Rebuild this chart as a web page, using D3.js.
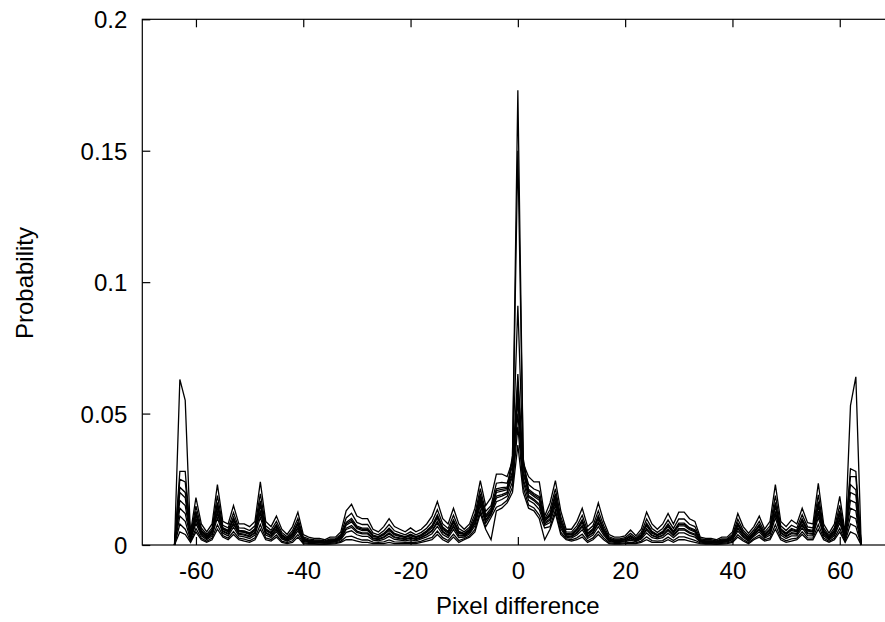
<!DOCTYPE html>
<html>
<head>
<meta charset="utf-8">
<script src="https://cdn.jsdelivr.net/npm/d3@7"></script>
<style>
  body { margin: 0; background: #fff; }
  text { font-family: "Liberation Sans", Arial, Helvetica, sans-serif; fill: #000; }
</style>
</head>
<body>
<svg id="chart" width="885" height="622"></svg>
<script>
// pixel difference categories, -64 .. 64
const pixelDiff = d3.range(-64, 65);

const xTicks = [-60, -40, -20, 0, 20, 40, 60];
const xTickLabels = ['-60', '-40', '-20', '0', '20', '40', '60'];
const yTicks = [0, 0.05, 0.1, 0.15, 0.2];
const yTickLabels = ['0', '0.05', '0.1', '0.15', '0.2'];

// probabilities, in units of 1e-3 (ten image histograms)
const series1 = [
  0, 63, 55, 2.4, 9.6, 4.1, 2.4, 4.1, 12, 5.1,
  4.1, 7.9, 4.1, 3.8, 3.1, 4.5, 12.3, 4.5, 3.4, 5.8,
  2.8, 1.7, 3.1, 6.3, 1.7, 1.2, 1.1, 1, .8, 1.2,
  1.4, 2.4, 5.9, 6.7, 4.8, 4.2, 4.2, 2.4, 2.1, 2.8,
  4.2, 2.8, 2.4, 2.1, 2.6, 2.1, 2.8, 3.8, 5.2, 8.4,
  4.8, 3.5, 6.9, 3.5, 3.4, 4.8, 8.2, 16.4, 9.2, 12,
  17.9, 18.6, 19.5, 33, 173, 32, 18.2, 16.9, 14.9, 8,
  9.5, 16.4, 7.2, 3.4, 3.1, 4.5, 6.9, 3.1, 4.5, 8.2,
  4.5, 1.7, 1.2, 1.2, 1.6, 2.3, 1.6, 2.8, 5.7, 3.5,
  2.8, 3.5, 5.5, 3.5, 5.7, 5.7, 4.5, 3.8, 1.4, 1.1,
  1.1, .8, 1.2, 1.4, 2.4, 6.2, 3.4, 1.9, 3.8, 5.8,
  3.1, 4.5, 12, 4.5, 3.1, 4.3, 4.1, 7.5, 4.3, 4.1,
  12.1, 4.1, 2.2, 4.1, 9.7, 2.4, 53, 64, 0
];
const series2 = [
  0, 28, 28, 3.2, 12.2, 5.3, 3.2, 5.3, 15.4, 6.3,
  5.3, 10.1, 5.3, 5.1, 4.3, 5.9, 15.9, 5.9, 4.5, 7.4,
  3.8, 2.4, 4.3, 8.2, 2.4, 1.8, 1.5, 1.5, 1.2, 1.8,
  1.9, 3.2, 8.1, 9.4, 6.7, 6, 6, 3.5, 3, 4.1,
  6, 4.1, 3.5, 3, 3.8, 3, 3.8, 5.1, 7, 10.9,
  6.4, 4.9, 9.1, 4.9, 4.2, 5.8, 10, 18.9, 11, 13,
  20.7, 21.2, 21.5, 34, 150, 33, 20.6, 19.1, 17.7, 9,
  11.5, 18.9, 9, 4.2, 4, 5.9, 9.1, 4.3, 5.9, 10.6,
  5.9, 2.4, 1.8, 1.8, 2.2, 3.4, 2.2, 3.8, 7.8, 4.9,
  3.8, 4.9, 7.5, 4.9, 7.8, 7.8, 6.2, 5.4, 1.9, 1.5,
  1.5, 1.2, 1.8, 1.9, 3.2, 8, 4.5, 2.7, 4.8, 7.4,
  4, 5.9, 15.4, 5.9, 4.3, 5.9, 5.3, 9.5, 5.6, 5.3,
  15.6, 5.3, 2.9, 5.3, 12.4, 3.2, 29, 28, 0
];
const series3 = [
  0, 25, 24, 5, 18, 8, 5, 8, 23, 9,
  8, 15, 8, 8, 7, 9, 24, 9, 7, 11,
  6, 4, 7, 12.5, 4, 3, 2.5, 2.5, 2, 3,
  3, 5, 13, 15.5, 11, 10, 10, 6, 5, 7,
  10, 7, 6, 5, 6.5, 5, 6, 8, 11, 16.5,
  10, 8, 14, 8, 6, 8, 14, 24.5, 15, 18,
  27, 27, 26, 32, 91, 31, 26, 24, 24, 11,
  16, 24.5, 13, 6, 6, 9, 14, 7, 9, 16,
  9, 4, 3, 3, 3.5, 5.7, 3.5, 6, 12.5, 8,
  6, 8, 12, 8, 12.5, 12.5, 10, 9, 3, 2.5,
  2.5, 2, 3, 3, 5, 12, 7, 4.5, 7, 11,
  6, 9, 23, 9, 7, 9.5, 8, 14, 8.5, 8,
  23.5, 8, 4.5, 8, 18.5, 5, 26, 26, 0
];
const series4 = [
  0, 22, 20, 4, 14.8, 6.5, 4, 6.5, 18.8, 7.5,
  6.5, 12.3, 6.5, 6.4, 5.5, 7.3, 19.5, 7.3, 5.6, 9,
  4.8, 3.1, 5.5, 10.1, 3.1, 2.3, 2, 1.9, 1.6, 2.3,
  2.4, 4, 10.3, 12.1, 8.6, 7.8, 7.8, 4.6, 3.9, 5.4,
  7.8, 5.4, 4.6, 3.9, 5, 3.9, 4.8, 6.4, 8.8, 13.4,
  8, 6.3, 11.3, 6.3, 5, 6.8, 11.8, 21.4, 12.8, 15,
  23.5, 23.8, 23.5, 30, 65, 30, 23, 21.3, 20.5, 10,
  13.5, 21.4, 10.8, 5, 4.9, 7.3, 11.3, 5.5, 7.3, 13,
  7.3, 3.1, 2.3, 2.3, 2.8, 4.4, 2.8, 4.8, 9.9, 6.3,
  4.8, 6.3, 9.5, 6.3, 9.9, 9.9, 7.9, 7, 2.4, 2,
  2, 1.6, 2.3, 2.4, 4, 9.8, 5.6, 3.5, 5.8, 9,
  4.9, 7.3, 18.8, 7.3, 5.5, 7.5, 6.5, 11.5, 6.9, 6.5,
  19.1, 6.5, 3.6, 6.5, 15.1, 4, 23, 21, 0
];
const series5 = [
  0, 20, 18, 3.4, 12.8, 5.6, 3.4, 5.6, 16.2, 6.6,
  5.6, 10.6, 5.6, 5.4, 4.6, 6.2, 16.8, 6.2, 4.8, 7.8,
  4, 2.6, 4.6, 8.7, 2.6, 1.9, 1.6, 1.6, 1.3, 1.9,
  2, 3.4, 8.6, 10.1, 7.2, 6.4, 6.4, 3.8, 3.2, 4.4,
  6.4, 4.4, 3.8, 3.2, 4.1, 3.2, 4, 5.4, 7.4, 11.5,
  6.8, 5.2, 9.6, 5.2, 4.4, 6, 10.4, 19.5, 11.4, 14,
  21.4, 21.8, 22, 28, 62, 28, 21.2, 19.6, 18.4, 9.5,
  12, 19.5, 9.4, 4.4, 4.2, 6.2, 9.6, 4.6, 6.2, 11.2,
  6.2, 2.6, 1.9, 1.9, 2.3, 3.6, 2.3, 4, 8.3, 5.2,
  4, 5.2, 8, 5.2, 8.3, 8.3, 6.6, 5.8, 2, 1.6,
  1.6, 1.3, 1.9, 2, 3.4, 8.4, 4.8, 2.9, 5, 7.8,
  4.2, 6.2, 16.2, 6.2, 4.6, 6.3, 5.6, 10, 5.9, 5.6,
  16.5, 5.6, 3.1, 5.6, 13.1, 3.4, 20, 19, 0
];
const series6 = [
  0, 17, 15, 3, 11.5, 5, 3, 5, 14.5, 6,
  5, 9.5, 5, 4.8, 4, 5.5, 15, 5.5, 4.3, 7,
  3.5, 2.3, 4, 7.8, 2.3, 1.7, 1.4, 1.4, 1.1, 1.7,
  1.8, 3, 7.5, 8.8, 6.3, 5.5, 5.5, 3.3, 2.8, 3.8,
  5.5, 3.8, 3.3, 2.8, 3.5, 2.8, 3.5, 4.8, 6.5, 10.3,
  6, 4.5, 8.5, 4.5, 4, 5.5, 9.5, 18.3, 10.5, 13,
  20, 20.5, 21, 27, 58, 27, 20, 18.5, 17, 9,
  11, 18.3, 8.5, 4, 3.8, 5.5, 8.5, 4, 5.5, 10,
  5.5, 2.3, 1.7, 1.7, 2, 3.1, 2, 3.5, 7.3, 4.5,
  3.5, 4.5, 7, 4.5, 7.3, 7.3, 5.8, 5, 1.8, 1.4,
  1.4, 1.1, 1.7, 1.8, 3, 7.5, 4.3, 2.5, 4.5, 7,
  3.8, 5.5, 14.5, 5.5, 4, 5.5, 5, 9, 5.3, 5,
  14.8, 5, 2.8, 5, 11.8, 3, 17, 16, 0
];
const series7 = [
  0, 14, 12, 2.6, 10.2, 4.4, 2.6, 4.4, 12.8, 5.4,
  4.4, 8.4, 4.4, 4.1, 3.4, 4.8, 13.2, 4.8, 3.7, 6.2,
  3, 1.9, 3.4, 6.8, 1.9, 1.4, 1.2, 1.1, .9, 1.4,
  1.5, 2.6, 6.4, 7.4, 5.3, 4.6, 4.6, 2.7, 2.3, 3.1,
  4.6, 3.1, 2.7, 2.3, 2.9, 2.3, 3, 4.1, 5.6, 9,
  5.2, 3.8, 7.4, 3.8, 3.6, 5, 8.6, 17, 9.6, 12.5,
  18.6, 19.2, 20, 26, 55, 25, 18.8, 17.4, 15.6, 8.5,
  10, 17, 7.6, 3.6, 3.3, 4.8, 7.4, 3.4, 4.8, 8.8,
  4.8, 1.9, 1.4, 1.4, 1.7, 2.6, 1.7, 3, 6.2, 3.8,
  3, 3.8, 6, 3.8, 6.2, 6.2, 4.9, 4.2, 1.5, 1.2,
  1.2, .9, 1.4, 1.5, 2.6, 6.6, 3.7, 2.1, 4, 6.2,
  3.3, 4.8, 12.8, 4.8, 3.4, 4.7, 4.4, 8, 4.6, 4.4,
  13, 4.4, 2.4, 4.4, 10.4, 2.6, 14, 13, 0
];
const series8 = [
  0, 11, 9, 2, 8.3, 3.5, 2, 3.5, 10.3, 4.5,
  3.5, 6.8, 3.5, 3.1, 2.5, 3.8, 10.5, 3.8, 2.9, 5,
  2.3, 1.4, 2.5, 5.4, 1.4, 1, .9, .8, .7, 1,
  1.1, 2, 4.8, 5.4, 3.9, 3.3, 3.3, 1.9, 1.6, 2.1,
  3.3, 2.1, 1.9, 1.6, 2, 1.6, 2.3, 3.1, 4.3, 7.1,
  4, 2.8, 5.8, 2.8, 3, 4.3, 7.3, 15.1, 8.3, 11.5,
  16.5, 17.3, 18.5, 24, 50, 24, 17, 15.8, 13.5, 7.5,
  8.5, 15.1, 6.3, 3, 2.6, 3.8, 5.8, 2.5, 3.8, 7,
  3.8, 1.4, 1, 1, 1.3, 1.8, 1.3, 2.3, 4.6, 2.8,
  2.3, 2.8, 4.5, 2.8, 4.6, 4.6, 3.6, 3, 1.1, .9,
  .9, .7, 1, 1.1, 2, 5.3, 2.9, 1.5, 3.3, 5,
  2.6, 3.8, 10.3, 3.8, 2.5, 3.5, 3.5, 6.5, 3.6, 3.5,
  10.4, 3.5, 1.9, 3.5, 8.4, 2, 11, 10, 0
];
const series9 = [
  0, 8, 6, 1.4, 6.3, 2.6, 1.4, 2.6, 7.7, 3.6,
  2.6, 5.1, 2.6, 2.2, 1.6, 2.7, 7.8, 2.7, 2.1, 3.8,
  1.5, .9, 1.6, 4, .9, .6, .5, .4, .4, .6,
  .8, 1.4, 3.1, 3.4, 2.5, 1.9, 1.9, 1.1, 1, 1.2,
  1.9, 1.2, 1.1, 1, 1.1, 1, 1.5, 2.2, 2.9, 5.3,
  2.8, 1.7, 4.1, 1.7, 2.4, 3.5, 5.9, 13.3, 6.9, 10.5,
  14.4, 15.3, 17, 22, 45, 22, 15.2, 14.1, 11.4, 6.5,
  7, 13.3, 4.9, 2.4, 2, 2.7, 4.1, 1.6, 2.7, 5.2,
  2.7, .9, .6, .6, .8, 1, .8, 1.5, 3.1, 1.7,
  1.5, 1.7, 3, 1.7, 3.1, 3.1, 2.4, 1.8, .8, .5,
  .5, .4, .6, .8, 1.4, 3.9, 2.1, .9, 2.5, 3.8,
  2, 2.7, 7.7, 2.7, 1.6, 2.3, 2.6, 5, 2.7, 2.6,
  7.8, 2.6, 1.4, 2.6, 6.4, 1.4, 8, 7, 0
];
const series10 = [
  0, 5, 4, 1, 5, 2, 1, 2, 6, 3,
  2, 4, 2, 1.5, 1, 2, 6, 2, 1.5, 3,
  1, .5, 1, 3, .5, .3, .3, .2, .2, .3,
  .5, 1, 2, 2, 1.5, 1, 1, .5, .5, .5,
  1, .5, .5, .5, .5, .5, 1, 1.5, 2, 4,
  2, 1, 3, 1, 2, 3, 5, 12, 6, 2,
  13, 14, 16, 20, 38, 20, 14, 13, 10, 2,
  6, 12, 4, 2, 1.5, 2, 3, 1, 2, 4,
  2, .5, .3, .3, .5, .5, .5, 1, 2, 1,
  1, 1, 2, 1, 2, 2, 1.5, 1, .5, .3,
  .3, .2, .3, .5, 1, 3, 1.5, .5, 2, 3,
  1.5, 2, 6, 2, 1, 1.5, 2, 4, 2, 2,
  6, 2, 1, 2, 5, 1, 5, 4, 0
];

const allSeries = [series1, series2, series3, series4, series5,
  series6, series7, series8, series9, series10];

// plot frame (right edge falls just outside the window)
const plotLeft = 142.3, plotRight = 893.4, plotTop = 19.3, plotBottom = 545;
const tickLen = 8;

const svg = d3.select('#chart');

const x = d3.scaleLinear().domain([-70, 70]).range([plotLeft, plotRight]);
const y = d3.scaleLinear().domain([0, 0.2]).range([plotBottom, plotTop]);

const line = d3.line()
  .x((d, i) => x(pixelDiff[i]))
  .y(d => y(d / 1000));

// data lines
svg.append('g')
  .selectAll('path')
  .data(allSeries)
  .enter()
  .append('path')
  .attr('d', line)
  .attr('fill', 'none')
  .attr('stroke', '#000')
  .attr('stroke-width', 1.3)
  .attr('stroke-linejoin', 'miter');

// frame
svg.append('rect')
  .attr('x', plotLeft)
  .attr('y', plotTop)
  .attr('width', plotRight - plotLeft)
  .attr('height', plotBottom - plotTop)
  .attr('fill', 'none')
  .attr('stroke', '#000')
  .attr('stroke-width', 1.2);

// x ticks, bottom and mirrored on top
const gx = svg.append('g').attr('transform', `translate(0,${plotBottom})`)
  .call(d3.axisBottom(x).tickValues(xTicks).tickSize(-tickLen)
    .tickFormat((d, i) => xTickLabels[i]));
gx.select('.domain').remove();
gx.selectAll('text').attr('font-size', 24).attr('dy', null).attr('y', 34);

const gxTop = svg.append('g').attr('transform', `translate(0,${plotTop})`)
  .call(d3.axisTop(x).tickValues(xTicks).tickSize(-tickLen).tickFormat(''));
gxTop.select('.domain').remove();

// y ticks, left and mirrored on right
const gy = svg.append('g').attr('transform', `translate(${plotLeft},0)`)
  .call(d3.axisLeft(y).tickValues(yTicks).tickSize(-tickLen)
    .tickFormat((d, i) => yTickLabels[i]));
gy.select('.domain').remove();
gy.selectAll('text').attr('font-size', 24).attr('x', -15).attr('dy', '0.36em');

const gyRight = svg.append('g').attr('transform', `translate(${plotRight},0)`)
  .call(d3.axisRight(y).tickValues(yTicks).tickSize(-tickLen).tickFormat(''));
gyRight.select('.domain').remove();

svg.selectAll('.tick line').attr('stroke', '#000').attr('stroke-width', 1.2);
svg.selectAll('.tick text').attr('font-family', '"Liberation Sans", Arial, sans-serif').attr('fill', '#000');

// axis titles
svg.append('text')
  .attr('x', x(0))
  .attr('y', 614)
  .attr('text-anchor', 'middle')
  .attr('font-size', 24)
  .text('Pixel difference');

svg.append('text')
  .attr('transform', 'translate(33,283) rotate(-90)')
  .attr('text-anchor', 'middle')
  .attr('font-size', 24)
  .text('Probability');
</script>
</body>
</html>
